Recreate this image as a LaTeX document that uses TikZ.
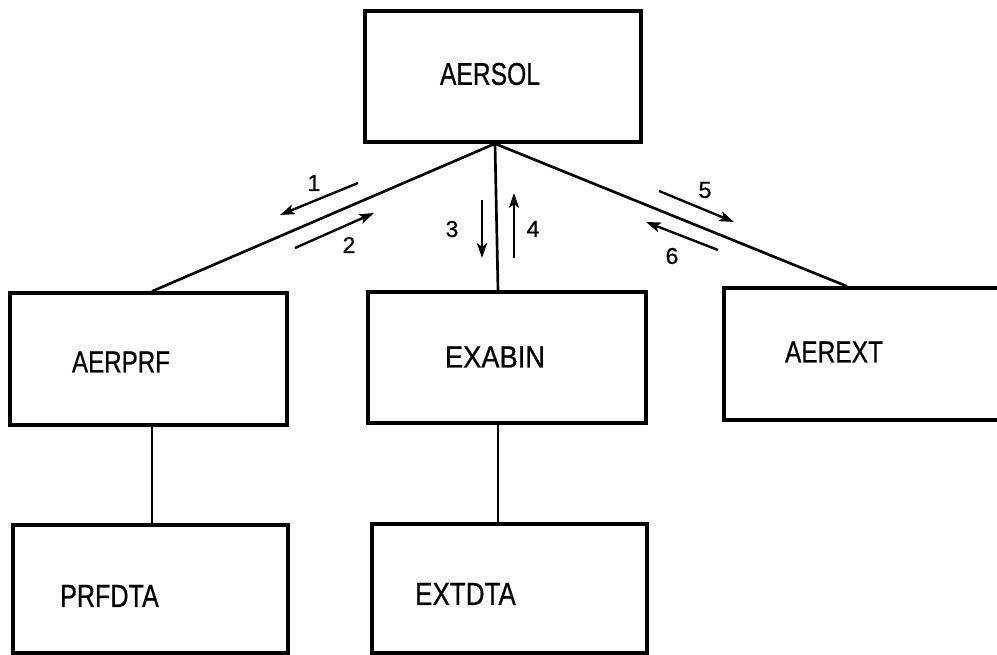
\documentclass[tikz,border=0pt]{standalone}
\usepackage{fontspec}
\setmainfont{Liberation Sans}[FakeBold=0.7]
\usetikzlibrary{arrows.meta,calc}
\newcommand{\boxlabel}[2]{\resizebox{#1}{15.75pt}{#2}}
\newcommand{\flowno}[1]{\resizebox{!}{12pt}{#1}}
\begin{document}
\begin{tikzpicture}[x=0.75pt,y=-0.75pt,
  modbox/.style={draw,line width=2.5pt,rectangle,inner sep=0pt},
  txt/.style={inner sep=0pt,anchor=center},
  link/.style={line width=2pt},
  flow/.style={line width=1.8pt,-{Stealth[length=11pt,width=7.5pt,inset=2.5pt]}},
  num/.style={inner sep=0pt}]
\useasboundingbox (0,0) rectangle (997,655);

% module boxes (sizes in pt: one unit is 0.75pt)
\node[modbox,minimum width=207pt,minimum height=98.25pt] (aersol) at (503,76.5) {};
\node[modbox,minimum width=207.75pt,minimum height=99pt] (aerprf) at (148.5,359) {};
\node[modbox,minimum width=208.5pt,minimum height=98.25pt] (exabin) at (507,357.5) {};
\node[modbox,minimum width=217.5pt,minimum height=99pt] (aerext) at (869,354) {};
\node[modbox,minimum width=206.25pt,minimum height=96pt] (prfdta) at (150.5,589) {};
\node[modbox,minimum width=206.25pt,minimum height=96.75pt] (extdta) at (509.5,588.5) {};

% module names
\node[txt] (taersol) at (490,74) {\resizebox{75pt}{16.5pt}{AERSOL}};
\node[txt] (taerprf) at (121,362) {\boxlabel{73.5pt}{AERPRF}};
\node[txt] (texabin) at (495,357) {\boxlabel{75pt}{EXABIN}};
\node[txt] (taerext) at (834,352) {\boxlabel{73.5pt}{AEREXT}};
\node[txt] (tprfdta) at (109.5,596) {\resizebox{74pt}{16.5pt}{PRFDTA}};
\node[txt] (textdta) at (465.5,594) {\resizebox{75.5pt}{16.5pt}{EXTDTA}};

% calling tree
\coordinate (apex) at ($(aersol.south)+(-8,0)$);
\draw[link] (apex) -- ($(aerprf.north)+(3.5,0)$);
\draw[link] (apex) -- ($(exabin.north)+(-9,0)$);
\draw[link] (apex) -- ($(aerext.north)+(-22,0)$);
\draw[link] ($(aerprf.south)+(3.5,0)$) -- ($(prfdta.north)+(1.5,0)$);
\draw[link] ($(exabin.south)+(-9,0)$) -- ($(extdta.north)+(-11.5,0)$);

% data flow arrows
\coordinate (f1a) at (358,183); \coordinate (f1b) at (280,215);
\coordinate (f2a) at (295,248); \coordinate (f2b) at (374,213);
\coordinate (f3a) at (482,200); \coordinate (f3b) at (482,258);
\coordinate (f4a) at (514,258); \coordinate (f4b) at (514,193);
\coordinate (f5a) at (659,191); \coordinate (f5b) at (734,222);
\coordinate (f6a) at (718,250); \coordinate (f6b) at (646,222);
\draw[flow] (f1a) -- (f1b);
\draw[flow] (f2a) -- (f2b);
\draw[flow] (f3a) -- (f3b);
\draw[flow] (f4a) -- (f4b);
\draw[flow] (f5a) -- (f5b);
\draw[flow] (f6a) -- (f6b);

% flow numbers
\node[num] (n1) at (314,183) {\flowno{1}};
\node[num] (n2) at (349,245) {\flowno{2}};
\node[num] (n3) at (452,229) {\flowno{3}};
\node[num] (n4) at (533,229) {\flowno{4}};
\node[num] (n5) at (705,190) {\flowno{5}};
\node[num] (n6) at (672,256) {\flowno{6}};
\end{tikzpicture}
\end{document}
